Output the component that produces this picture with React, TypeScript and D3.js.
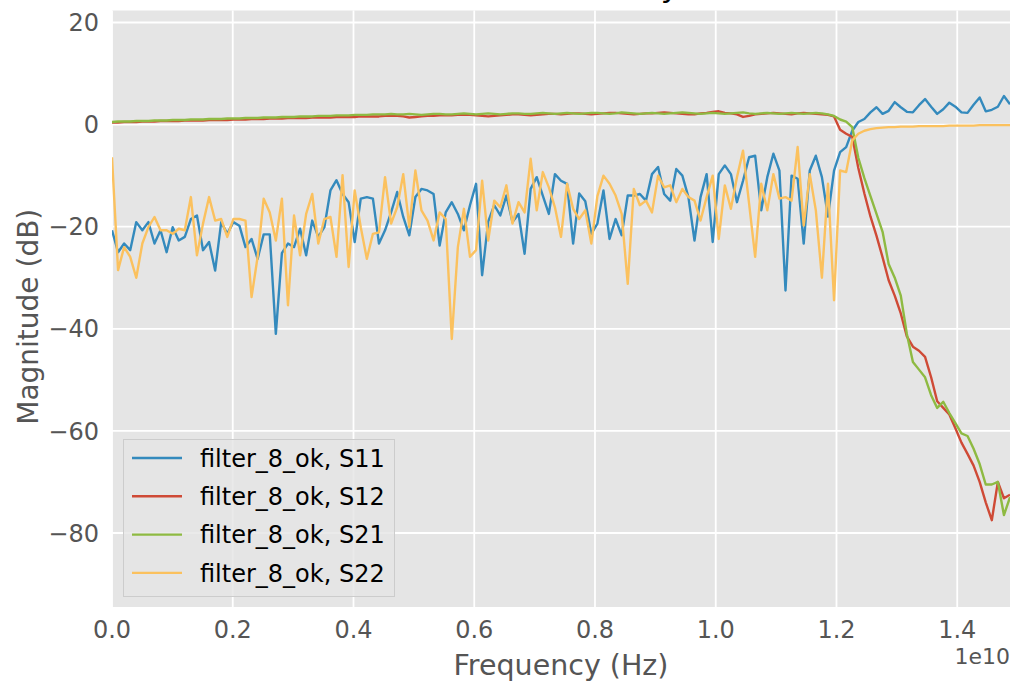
import * as d3 from "d3";

// sweep: 149 points, ~100 MHz apart
const freqHz = d3.range(149).map((i) => i * 1.005e8);

const s11 = [
  -20.7, -25.0, -23.3, -24.6, -19.1, -20.7, -19.1, -23.3, -20.7, -25.0,
  -20.1, -22.7, -22.0, -18.5, -17.8, -24.6, -23.0, -28.6, -19.1, -21.4,
  -19.1, -19.8, -24.0, -22.4, -26.3, -21.5, -21.5, -41.0, -25.2, -23.3,
  -24.0, -20.4, -25.6, -18.8, -22.0, -20.1, -12.9, -10.9, -13.6, -15.2,
  -23.0, -14.5, -14.2, -14.5, -23.3, -20.7, -17.2, -13.2, -18.1, -21.7,
  -14.2, -12.6, -12.9, -13.6, -23.7, -17.2, -15.2, -17.5, -20.7, -15.8,
  -11.6, -29.5, -19.0, -15.8, -17.8, -13.9, -19.1, -17.5, -25.3, -12.6,
  -10.3, -13.9, -17.5, -9.7, -11.0, -11.6, -23.3, -13.5, -15.0, -21.4,
  -19.4, -12.9, -22.4, -18.5, -21.7, -13.9, -13.9, -13.6, -14.9, -9.7,
  -8.3, -13.6, -14.9, -8.7, -10.0, -14.2, -22.7, -14.2, -9.7, -23.0,
  -9.7, -8.0, -9.7, -15.2, -11.0, -6.4, -6.1, -16.8, -10.3, -5.7,
  -9.0, -32.5, -10.0, -10.6, -23.3, -9.0, -6.1, -10.3, -18.0, -9.0,
  -5.4, -4.4, -1.2, 0.5, 1.1, 2.4, 3.4, 2.1, 2.7, 4.4,
  3.4, 2.5, 2.4, 3.8, 5.0, 3.5, 2.1, 3.0, 4.3, 3.5,
  2.4, 2.3, 3.9, 5.3, 2.6, 2.9, 3.5, 5.6, 4.0,
];

const s12 = [
  0.4, 0.4, 0.5, 0.5, 0.5, 0.6, 0.6, 0.6, 0.7, 0.7,
  0.7, 0.7, 0.8, 0.8, 0.8, 0.8, 0.9, 0.9, 0.9, 0.9,
  1.0, 1.0, 1.0, 1.1, 1.1, 1.1, 1.2, 1.2, 1.2, 1.3,
  1.3, 1.3, 1.3, 1.4, 1.4, 1.4, 1.4, 1.5, 1.5, 1.5,
  1.5, 1.6, 1.6, 1.6, 1.6, 1.7, 1.7, 1.7, 1.6, 1.4,
  1.5, 1.6, 1.7, 1.7, 1.8, 1.8, 1.8, 1.9, 1.9, 1.9,
  1.8, 1.7, 1.6, 1.7, 1.8, 1.9, 2.0, 2.0, 1.9, 1.8,
  1.9, 2.0, 2.1, 2.1, 2.0, 2.1, 2.2, 2.2, 2.1, 2.0,
  2.1, 2.2, 2.3, 2.3, 2.2, 2.1, 2.0, 2.1, 2.2, 2.2,
  2.3, 2.4, 2.3, 2.2, 2.1, 2.0, 2.0, 2.2, 2.3, 2.5,
  2.6, 2.3, 2.2, 2.0, 1.5, 1.7, 2.0, 2.1, 2.2, 2.3,
  2.2, 2.1, 2.0, 2.2, 2.3, 2.2, 2.1, 2.0, 1.9, 1.6,
  -1.0, -1.8, -2.4, -8.5, -13.5, -18.0, -21.8, -26.0, -30.5, -33.5,
  -37.0, -41.5, -43.5, -44.3, -45.5, -49.5, -54.2, -55.5, -56.8, -59.5,
  -62.3, -64.5, -66.8, -70.0, -74.0, -77.5, -70.0, -73.2, -72.5,
];

const s21 = [
  0.5, 0.6, 0.6, 0.6, 0.7, 0.7, 0.7, 0.8, 0.8, 0.8,
  0.9, 0.9, 0.9, 1.0, 1.0, 1.0, 1.1, 1.1, 1.1, 1.2,
  1.2, 1.2, 1.3, 1.3, 1.3, 1.4, 1.4, 1.4, 1.5, 1.5,
  1.5, 1.6, 1.6, 1.6, 1.7, 1.7, 1.7, 1.8, 1.8, 1.8,
  1.9, 1.9, 1.9, 2.0, 2.0, 2.0, 2.1, 2.0, 2.0, 2.1,
  2.0, 1.9, 2.0, 2.1, 2.1, 2.0, 2.0, 2.1, 2.2, 2.1,
  2.0, 2.1, 2.2, 2.1, 2.0, 2.1, 2.2, 2.2, 2.1, 2.1,
  2.2, 2.3, 2.2, 2.1, 2.2, 2.3, 2.2, 2.1, 2.2, 2.3,
  2.3, 2.2, 2.1, 2.2, 2.4, 2.3, 2.2, 2.1, 2.2, 2.3,
  2.2, 2.1, 2.2, 2.3, 2.4, 2.3, 2.2, 2.1, 2.2, 2.3,
  2.2, 2.1, 2.2, 2.3, 2.4, 2.2, 2.1, 2.2, 2.3, 2.2,
  2.1, 2.2, 2.3, 2.2, 2.1, 2.2, 2.3, 2.2, 2.0, 1.7,
  1.0, 0.6, -0.5, -6.5, -10.5, -14.0, -17.5, -21.0, -27.3, -30.0,
  -33.5, -41.0, -46.5, -48.0, -49.5, -53.0, -55.5, -54.3, -56.5, -58.5,
  -60.5, -61.0, -63.5, -66.5, -70.5, -70.5, -70.0, -76.5, -73.0,
];

const s22 = [
  -6.4, -28.5, -24.0, -25.9, -30.0, -23.3, -20.1, -18.1, -20.7, -20.7,
  -21.4, -20.4, -20.7, -14.2, -25.6, -19.4, -14.2, -18.8, -18.5, -22.0,
  -18.5, -18.5, -18.8, -33.8, -25.9, -14.5, -17.2, -22.7, -14.5, -35.4,
  -17.8, -25.6, -17.5, -13.6, -23.3, -18.5, -18.1, -25.9, -9.9, -27.9,
  -12.9, -20.1, -26.3, -21.4, -21.1, -10.3, -19.4, -16.2, -9.7, -20.1,
  -9.0, -16.8, -18.8, -22.7, -17.2, -18.5, -42.0, -24.0, -16.5, -25.9,
  -24.6, -11.0, -22.7, -14.9, -16.2, -11.9, -19.4, -15.2, -17.2, -6.7,
  -16.8, -9.3, -12.3, -16.2, -22.0, -11.6, -16.5, -18.5, -16.8, -23.3,
  -14.0, -10.0, -11.6, -13.9, -17.5, -31.2, -12.6, -15.8, -14.9, -17.2,
  -10.0, -12.3, -11.9, -15.2, -12.6, -14.2, -14.9, -18.8, -14.2, -10.0,
  -22.4, -11.9, -16.5, -10.3, -5.1, -15.5, -25.9, -11.6, -16.8, -9.7,
  -14.5, -14.2, -14.9, -4.4, -19.8, -9.7, -16.8, -30.0, -11.6, -34.4,
  -9.0, -9.3, -3.1, -1.8, -1.2, -0.9, -0.7, -0.6, -0.5, -0.5,
  -0.4, -0.4, -0.4, -0.3, -0.3, -0.3, -0.3, -0.3, -0.2, -0.2,
  -0.2, -0.2, -0.2, -0.1, -0.1, -0.1, -0.1, -0.1, -0.1,
];

const seriesNames = ["filter_8_ok, S11", "filter_8_ok, S12", "filter_8_ok, S21", "filter_8_ok, S22"];
const seriesValues = [s11, s12, s21, s22];
const seriesColors = ["#348ABD", "#cf4a36", "#8EBA42", "#FBC15E"];

const xTicks = [0, 0.2e10, 0.4e10, 0.6e10, 0.8e10, 1.0e10, 1.2e10, 1.4e10];
const yTicks = [20, 0, -20, -40, -60, -80];

const W = 1015;
const H = 686;
const left = 112, right = 1010, top = 10.5, bottom = 607;

export default function App() {
  const x = d3.scaleLinear().domain([0, freqHz[freqHz.length - 1]]).range([left, right]);
  const y = d3.scaleLinear().domain([-94.5, 22.35]).range([bottom, top]);

  const line = d3.line<number>()
    .x((_, i) => x(freqHz[i]))
    .y((d) => y(d));

  const fmtY = (v: number) => (v < 0 ? "\u2212" + Math.abs(v) : String(v));

  return (
    <svg
      width={W}
      height={H}
      style={{ position: "fixed", left: 0, top: 0, background: "#fff" }}
      fontFamily="DejaVu Sans, sans-serif"
    >
      <defs>
        <clipPath id="plot-clip">
          <rect x={left} y={top} width={right - left} height={bottom - top} />
        </clipPath>
      </defs>

      {/* title sits above the frame, only its descender shows, as in the source */}
      <text x={(left + right) / 2} y={-3} textAnchor="middle" fontSize={31} fill="#000">
        Filter Summary
      </text>

      <rect x={left} y={top} width={right - left} height={bottom - top} fill="#E5E5E5" />

      {xTicks.map((t) => (
        <line key={"gx" + t} x1={x(t)} x2={x(t)} y1={top} y2={bottom} stroke="#fff" strokeWidth={1.8} />
      ))}
      {yTicks.map((t) => (
        <line key={"gy" + t} x1={left} x2={right} y1={y(t)} y2={y(t)} stroke="#fff" strokeWidth={1.8} />
      ))}

      <g clipPath="url(#plot-clip)">
        {seriesValues.map((vals, k) => (
          <path
            key={seriesNames[k]}
            d={line(vals) ?? ""}
            fill="none"
            stroke={seriesColors[k]}
            strokeWidth={2.4}
            strokeLinejoin="round"
          />
        ))}
      </g>

      {xTicks.map((t) => (
        <text key={"tx" + t} x={x(t)} y={638} textAnchor="middle" fontSize={24} fill="#555">
          {(t / 1e10).toFixed(1)}
        </text>
      ))}
      {yTicks.map((t) => (
        <text key={"ty" + t} x={99} y={y(t)} dy="0.36em" textAnchor="end" fontSize={24} fill="#555">
          {fmtY(t)}
        </text>
      ))}

      <text x={right} y={664} textAnchor="end" fontSize={22} fill="#555">1e10</text>
      <text x={(left + right) / 2} y={675} textAnchor="middle" fontSize={28.5} fill="#555">
        Frequency (Hz)
      </text>
      <text
        transform={`translate(38, ${(top + bottom) / 2 + 8}) rotate(-90)`}
        textAnchor="middle"
        fontSize={28}
        fill="#555"
      >
        Magnitude (dB)
      </text>

      {/* legend */}
      <g>
        <rect x={123.5} y={439.5} width={271} height={157} fill="#E5E5E5" fillOpacity={0.8} stroke="#cccccc" strokeWidth={1} />
        {seriesNames.map((name, k) => {
          const cy = 458 + k * 38.3;
          return (
            <g key={"lg" + k}>
              <line x1={132} x2={182} y1={cy} y2={cy} stroke={seriesColors[k]} strokeWidth={2.4} />
              <text x={200} y={cy} dy="0.36em" fontSize={24} fill="#000">{name}</text>
            </g>
          );
        })}
      </g>
    </svg>
  );
}
